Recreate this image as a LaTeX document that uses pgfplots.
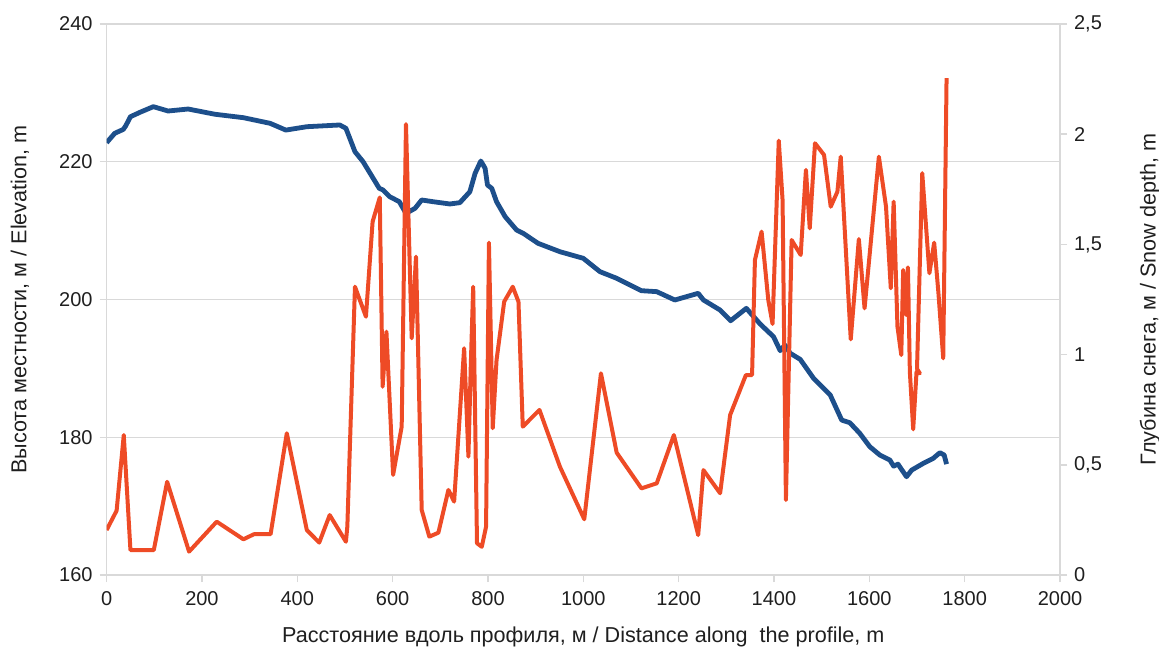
\documentclass[border=0pt]{standalone}
\usepackage{fontspec}
\setmainfont{Liberation Sans}
\usepackage{pgfplots}
\pgfplotsset{compat=1.18}
\definecolor{elev}{HTML}{1D4F8B}
\definecolor{snow}{HTML}{EE4B26}
\definecolor{gridc}{HTML}{D9D9D9}
\begin{document}
\begin{tikzpicture}
\begin{axis}[
  at={(53.3pt,39pt)}, anchor=south west,
  scale only axis, width=476.7pt, height=275.5pt,
  xmin=0, xmax=2000, ymin=160, ymax=240,
  xtick={0,200,...,2000}, ytick={160,180,...,240},
  xtick pos=left, ytick pos=left, tick align=outside,
  major tick length=3.5pt,
  tick style={gridc, line width=0.7pt},
  axis line style={gridc, line width=0.7pt},
  ymajorgrids, grid style={gridc, line width=0.7pt},
  /pgf/number format/assume math mode=true,
  /pgf/number format/1000 sep={},
  ticklabel style={font=\fontsize{10pt}{12pt}\selectfont, text=black!88},
  xticklabel style={yshift=-1pt},
  xlabel={Расстояние вдоль профиля, м / Distance along\ \ the profile, m},
  ylabel={Высота местности, м / Elevation, m},
  label style={font=\fontsize{10.8pt}{13pt}\selectfont, text=black!88},
  xlabel style={at={(axis description cs:0.5,-0.1125)}, anchor=center},
  ylabel style={at={(axis description cs:-0.0909,0.5)}, anchor=center, rotate=0},
  line join=round,
]
\addplot[elev, line width=2.4pt, mark=none] coordinates {
(0,222.77) (17,224.13) (35,224.7) (40,225.2) (50,226.54) (70,227.18) (98,228.0)
(129,227.37) (171,227.66) (227,226.9) (287,226.4) (343,225.58) (376,224.6)
(420,225.09) (475,225.29) (489,225.34) (502,224.86) (521,221.46) (538,220.01)
(572,216.14) (580,215.9) (594,214.93) (614,214.2) (628,212.51) (647,213.24)
(661,214.45) (685,214.2) (720,213.87) (741,214.06) (762,215.65) (773,218.32)
(785,220.11) (794,219.05) (799,216.62) (808,216.14) (818,214.2) (836,212.03)
(860,210.09) (874,209.61) (905,208.16) (951,206.94) (1000,205.98) (1035,204.04)
(1070,203.08) (1122,201.28) (1154,201.14) (1192,199.93) (1241,200.9) (1252,199.93)
(1287,198.47) (1309,196.92) (1342,198.72) (1371,196.44) (1399,194.6) (1413,192.57)
(1423,193.39) (1434,192.19) (1455,191.31) (1483,188.56) (1497,187.59) (1518,186.13)
(1542,182.5) (1559,182.11) (1580,180.57) (1601,178.63) (1622,177.42) (1643,176.7)
(1651,175.8) (1660,176.1) (1678,174.27) (1689,175.24) (1713,176.2) (1734,176.94)
(1748,177.76) (1757,177.42) (1762,176.1)
};
\end{axis}
\begin{axis}[
  at={(53.3pt,39pt)}, anchor=south west,
  scale only axis, width=476.7pt, height=275.5pt,
  xmin=0, xmax=2000, ymin=0, ymax=2.5,
  axis x line=none, axis y line*=right,
  ytick={0,0.5,...,2.5},
  tick align=outside, major tick length=3.5pt,
  tick style={gridc, line width=0.7pt},
  axis line style={gridc, line width=0.7pt},
  /pgf/number format/assume math mode=true,
  /pgf/number format/use comma,
  ticklabel style={font=\fontsize{10pt}{12pt}\selectfont, text=black!88},
  ylabel={Глубина снега, м / Snow depth, m},
  label style={font=\fontsize{10.8pt}{13pt}\selectfont, text=black!88},
  ylabel style={at={(axis description cs:1.0944,0.5)}, anchor=center},
  line join=round,
]
\addplot[snow, line width=2pt, mark=none] coordinates {
(0,0.204) (21,0.292) (36,0.635) (50,0.113) (99,0.113) (127,0.423) (173,0.106)
(231,0.242) (287,0.162) (309,0.185) (344,0.185) (378,0.643) (420,0.204) (446,0.147)
(468,0.272) (502,0.151) (505,0.22) (521,1.308) (544,1.172) (558,1.603) (573,1.713)
(579,0.854) (587,1.104) (601,0.454) (619,0.673) (628,2.046) (640,1.074) (649,1.444)
(661,0.295) (677,0.174) (696,0.192) (717,0.386) (729,0.333) (750,1.029) (759,0.537)
(764,0.953) (769,1.308) (777,0.144) (787,0.128) (796,0.219) (802,1.508) (810,0.666)
(818,0.975) (834,1.240) (852,1.308) (864,1.240) (873,0.673) (908,0.749) (951,0.491)
(1002,0.253) (1037,0.915) (1070,0.555) (1122,0.393) (1154,0.416) (1190,0.635)
(1241,0.181) (1252,0.476) (1287,0.371) (1308,0.726) (1341,0.907) (1354,0.907)
(1360,1.429) (1374,1.558) (1388,1.248) (1397,1.139) (1410,1.971) (1418,1.701)
(1425,0.340) (1437,1.520) (1456,1.452) (1467,1.838) (1475,1.573) (1486,1.959)
(1505,1.906) (1519,1.671) (1533,1.739) (1540,1.898) (1561,1.069) (1578,1.524)
(1590,1.210) (1620,1.898) (1635,1.671) (1645,1.301) (1651,1.694) (1659,1.127)
(1667,0.998) (1671,1.384) (1677,1.180) (1681,1.396) (1685,0.922) (1692,0.661)
(1699,0.922) (1706,0.915) (1700,0.935) (1711,1.823) (1726,1.369) (1736,1.508)
(1745,1.278) (1755,0.983) (1762,2.254)
};
\end{axis}
\pgfresetboundingbox
\path (0,0) rectangle (579.5pt,326.5pt);
\end{tikzpicture}
\end{document}
